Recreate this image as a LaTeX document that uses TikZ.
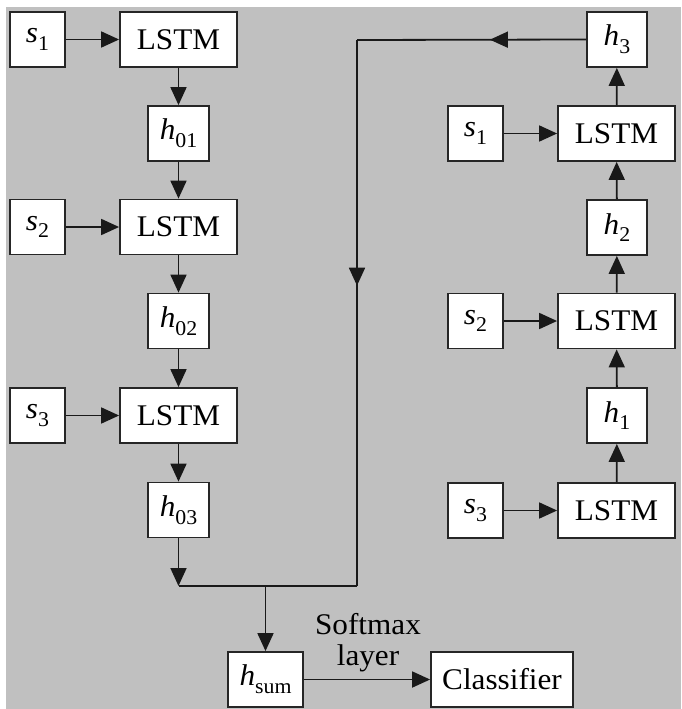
\documentclass[tikz,border=0pt]{standalone}
\usepackage{fontspec}
\setmainfont[FakeStretch=1.04]{Liberation Serif}
\usetikzlibrary{arrows.meta,decorations.markings}
\definecolor{bggray}{HTML}{C0C0C0}
\newcommand\sv[2]{\textit{#1}\raisebox{-0.26em}{\fontsize{21}{22}\selectfont #2}}
\tikzset{
  box/.style={draw=black!85, line width=1.8pt, fill=white, inner sep=0pt,
              minimum height=55pt, font=\fontsize{30}{34}\selectfont},
  sbox/.style={box, minimum width=55pt},
  hbox/.style={box, minimum width=61pt},
  lbox/.style={box, minimum width=117pt},
  conn/.style={line width=1.8pt, black!90},
  headtip/.style={-{Triangle[length=18pt,width=16pt]}},
  midtip/.style={postaction={decorate}, decoration={markings,
     mark=at position #1 with {\arrow{Triangle[length=18pt,width=16pt]}}}}
}
\begin{document}
\begin{tikzpicture}[x=1pt,y=-1pt]
  \useasboundingbox (0,0) rectangle (681,709);
  \fill[bggray] (6,7) rectangle (681,709);

  % forward chain
  \node[sbox] (sa1) at (37.5,39.5) {\sv{s}{1}};
  \node[lbox] (la1) at (178.5,39.5) {LSTM};
  \node[hbox] (h01) at (178.5,133.5) {\sv{h}{01}};
  \node[sbox] (sa2) at (37.5,227) {\sv{s}{2}};
  \node[lbox] (la2) at (178.5,227) {LSTM};
  \node[hbox] (h02) at (178.5,321) {\sv{h}{02}};
  \node[sbox] (sa3) at (37.5,415.5) {\sv{s}{3}};
  \node[lbox] (la3) at (178.5,415.5) {LSTM};
  \node[hbox] (h03) at (178.5,510) {\sv{h}{03}};

  % backward chain
  \node[hbox, minimum width=60pt] (h3) at (617,39.5) {\sv{h}{3}};
  \node[sbox] (sb1) at (475.5,133.5) {\sv{s}{1}};
  \node[lbox] (lb1) at (616.5,133.5) {LSTM};
  \node[hbox, minimum width=60pt] (h2) at (617,227.5) {\sv{h}{2}};
  \node[sbox] (sb2) at (475.5,321) {\sv{s}{2}};
  \node[lbox] (lb2) at (616.5,321) {LSTM};
  \node[hbox, minimum width=60pt] (h1) at (617,415.5) {\sv{h}{1}};
  \node[sbox] (sb3) at (475.5,510.5) {\sv{s}{3}};
  \node[lbox] (lb3) at (616.5,510.5) {LSTM};

  % output
  \node[box, minimum width=75pt] (hsum) at (265.5,679.5) {\textit{h}\raisebox{-0.26em}{\fontsize{21}{22}\selectfont sum}};
  \node[box, minimum width=142pt] (cls) at (502,679.5) {Classifier};
  \node[font=\fontsize{30}{34}\selectfont, align=center, inner sep=0pt] (smx) at (368,643) {Softmax\\[-3pt]layer};

  % junction points
  \coordinate (tr) at (357,40);
  \coordinate (jr) at (357,586);
  \coordinate (jl) at (178.5,586);
  \coordinate (jm) at (265.5,586);

  % forward connectors
  \draw[conn,headtip] (sa1) -- (la1);
  \draw[conn,headtip] (la1) -- (h01);
  \draw[conn,headtip] (h01) -- (la2);
  \draw[conn,headtip] (sa2) -- (la2);
  \draw[conn,headtip] (la2) -- (h02);
  \draw[conn,headtip] (h02) -- (la3);
  \draw[conn,headtip] (sa3) -- (la3);
  \draw[conn,headtip] (la3) -- (h03);
  \draw[conn,headtip] (h03) -- (jl);

  % backward connectors
  \draw[conn,headtip] (sb3) -- (lb3);
  \draw[conn,headtip] (lb3) -- (h1);
  \draw[conn,headtip] (h1) -- (lb2);
  \draw[conn,headtip] (sb2) -- (lb2);
  \draw[conn,headtip] (lb2) -- (h2);
  \draw[conn,headtip] (h2) -- (lb1);
  \draw[conn,headtip] (sb1) -- (lb1);
  \draw[conn,headtip] (lb1) -- (h3);

  % merge
  \draw[conn,midtip=0.42] (h3.west) -- (tr);
  \draw[conn,midtip=0.45] (tr) -- (jr);
  \draw[conn] (jr) -- (jl);
  \draw[conn,headtip] (jm) -- (hsum);
  \draw[conn,headtip] (hsum) -- (cls);
\end{tikzpicture}
\end{document}
